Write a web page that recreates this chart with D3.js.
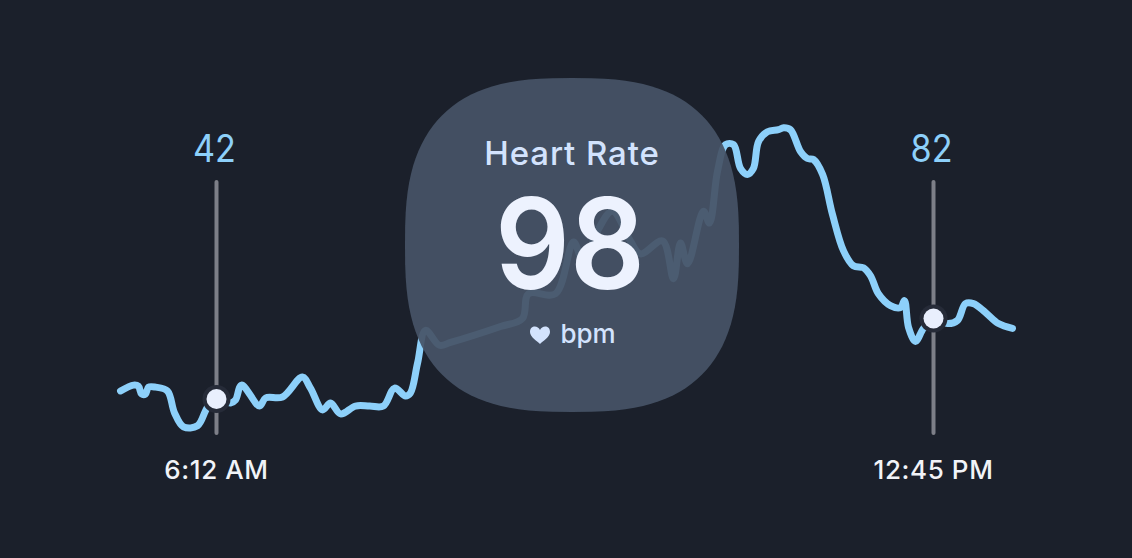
<!DOCTYPE html>
<html>
<head>
<meta charset="utf-8">
<script src="https://cdn.jsdelivr.net/npm/d3@7"></script>
<style>
  html, body { margin: 0; padding: 0; background: #1b202b; }
  svg { display: block; }
  text { font-family: "Inter", "Roboto", sans-serif; text-anchor: middle; }
</style>
</head>
<body>
<script>
// minutes since midnight
var times = [319.4, 326.5, 329.2, 330.9, 333.1, 334.7, 338.6, 345.1, 349.0, 353.9, 361.6, 367.1, 372,
    379.7, 382.4, 385.7, 395.6, 398.9, 408.2, 419.1, 423.5, 430.1, 434.5, 440.0, 448.2, 456.0, 463.5, 469.6,
    475.6, 478.3, 482.2, 486.6, 494.2, 500.3, 527.7, 539.7, 543.0, 557.8, 567.7, 573.2, 580.8, 589.0, 598.9, 604.4,
    616.5, 622.5, 626.3, 630.2, 638.9, 642.2, 646.6, 651.0, 655.4, 659.2, 663.0, 666.3, 669.1, 674.0,
    680.0, 682.8, 686.6, 692.1, 695.9, 699.2, 704.2, 709.6, 715.7, 721.1, 726.6, 730.5, 734.8, 741.4,
    746.9, 749.1, 751.3, 755.1, 759.5, 765, 772.7, 778.1, 782.5, 786.9, 793.5, 800.6, 808.3];
var bpm = [46.0, 48.9, 48.4, 44.5, 44.5, 47.9, 47.9, 46.0, 35.1, 28.2, 28.7, 38.0, 42,
    40.0, 41.5, 48.9, 38.5, 42.5, 43.0, 52.9, 47.4, 36.6, 40.0, 34.6, 38.5, 38.5, 38.5, 47.4,
    43.5, 45.0, 59.8, 76.1, 68.7, 70.1, 78.0, 82.0, 94.3, 94.3, 120.0, 109.7, 125.5, 135.3, 120.5, 114.1,
    120.5, 101.8, 119.5, 109.2, 135.3, 129.4, 155.1, 168.4, 168.4, 156.6, 153.6, 156.6, 169.9, 174.8,
    175.8, 176.8, 175.8, 165.0, 161.5, 161.0, 153.6, 133.8, 115.6, 108.2, 107.2, 103.2, 94.3, 88.4,
    87.4, 90.9, 77.6, 70.6, 77.1, 82, 79.5, 81.0, 89.4, 89.4, 85.0, 79.5, 77.1];

// the two marked readings
var markerTimes = [372, 765];
var markerBpm = [42, 82];
var markerClock = ["6:12 AM", "12:45 PM"];

var width = 1132, height = 558;

var x = d3.scaleLinear().domain([372, 765]).range([216.5, 933.5]);
var y = d3.scaleLinear().domain([42, 82]).range([399, 318.5]);

var svg = d3.select("body").append("svg")
    .attr("width", width)
    .attr("height", height);

// define the line
var hrline = d3.line()
    .x(function (d, i) { return x(times[i]); })
    .y(function (d) { return y(d); })
    .curve(d3.curveCatmullRom.alpha(0.5));

svg.append("path")
    .datum(bpm)
    .attr("fill", "none")
    .attr("stroke", "#8dd0fa")
    .attr("stroke-width", 7)
    .attr("stroke-linecap", "round")
    .attr("stroke-linejoin", "round")
    .attr("d", hrline);

// marker stems, labels and dots
markerTimes.forEach(function (t, i) {
    var mx = x(t), my = y(markerBpm[i]);
    svg.append("line")
        .attr("x1", mx).attr("x2", mx)
        .attr("y1", 182).attr("y2", 433)
        .attr("stroke", "#7d7f88")
        .attr("stroke-width", 4)
        .attr("stroke-linecap", "round");
    svg.append("circle")
        .attr("cx", mx).attr("cy", my).attr("r", 14)
        .attr("fill", "#262b38");
    svg.append("circle")
        .attr("cx", mx).attr("cy", my).attr("r", 10)
        .attr("fill", "#e9effd");
    svg.append("text")
        .attr("transform", "translate(" + (mx - 2) + ",162) scale(0.9,1)")
        .attr("font-size", 38)
        .attr("fill", "#8dd0fa")
        .text(markerBpm[i]);
    svg.append("text")
        .attr("x", mx).attr("y", 479)
        .attr("font-size", 26)
        .attr("font-weight", 500)
        .attr("letter-spacing", 0.6)
        .attr("fill", "#f1f3f8")
        .text(markerClock[i]);
});

// squircle panel on top of the line
var cx = 572, cy = 245, r = 167, n = 2.75;
var corners = d3.range(0, 361, 3).map(function (a) {
    var c = Math.cos(a * Math.PI / 180), s = Math.sin(a * Math.PI / 180);
    return [cx + r * Math.sign(c) * Math.pow(Math.abs(c), 2 / n),
            cy + r * Math.sign(s) * Math.pow(Math.abs(s), 2 / n)];
});
svg.append("path")
    .attr("d", d3.line()(corners) + "Z")
    .attr("fill", "#465366")
    .attr("fill-opacity", 0.93);

svg.append("text")
    .attr("x", 572).attr("y", 165)
    .attr("font-size", 33)
    .attr("font-weight", 500)
    .attr("letter-spacing", 0.9)
    .attr("fill", "#d3e3fd")
    .text("Heart Rate");

// slightly condensed so the digits fill the same box
svg.append("text")
    .attr("transform", "translate(570,289) scale(0.93,1)")
    .attr("font-size", 126)
    .attr("font-weight", 600)
    .attr("fill", "#edf2fe")
    .text("98");

svg.append("text")
    .attr("x", 588).attr("y", 343)
    .attr("font-size", 26)
    .attr("font-weight", 500)
    .attr("fill", "#d3e3fd")
    .text("bpm");

// heart glyph
svg.append("path")
    .attr("transform", "translate(540,335) scale(1)")
    .attr("fill", "#d3e3fd")
    .attr("d", "M0,9 C-3,6 -10,2 -10,-3 C-10,-10 -2,-10 0,-5 C2,-10 10,-10 10,-3 C10,2 3,6 0,9 Z");
</script>
</body>
</html>
